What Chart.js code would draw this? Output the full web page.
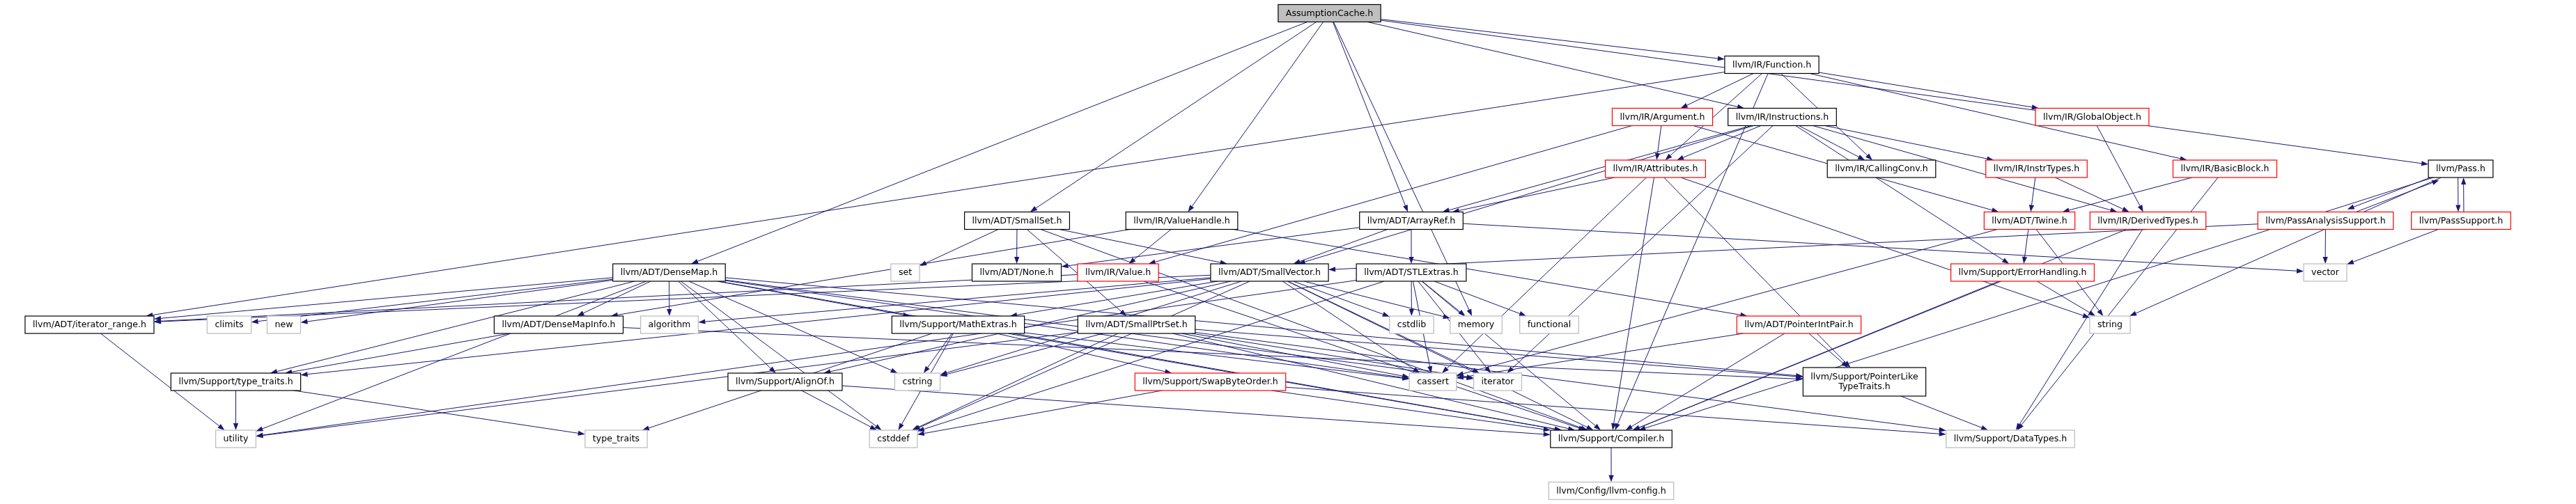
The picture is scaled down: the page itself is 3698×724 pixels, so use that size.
<!DOCTYPE html>
<html>
<head>
<meta charset="utf-8">
<title>AssumptionCache.h include dependency graph</title>
<script src="https://cdn.jsdelivr.net/npm/chart.js@4.4.1/dist/chart.umd.min.js"></script>
<style>
  html, body { margin: 0; padding: 0; background: #ffffff; }
  canvas { display: block; }
</style>
</head>
<body>
<canvas id="graph" width="3698" height="724"></canvas>
<script>
// one entry per header, in rank order
const node_ids = [
  "AC",
  "Function",
  "Argument", "Instructions", "GlobalObject",
  "Attributes", "CallingConv", "InstrTypes", "BasicBlock", "Pass",
  "SmallSet", "ValueHandle", "ArrayRef", "Twine", "DerivedTypes", "PAS", "PassSupport",
  "DenseMap", "set", "None", "Value", "SmallVector", "STLExtras", "ErrorHandling", "vector",
  "iterator_range", "climits", "new", "DenseMapInfo", "algorithm", "MathExtras", "SmallPtrSet",
  "cstdlib", "memory", "functional", "PointerIntPair", "string",
  "typeTraitsH", "AlignOf", "cstring", "SwapByteOrder", "cassert", "iterator", "PLTT",
  "utility", "type_traits", "cstddef", "Compiler", "DataTypes",
  "llvmconfig"
];
const node_labels = [
  "AssumptionCache.h",
  "llvm/IR/Function.h",
  "llvm/IR/Argument.h", "llvm/IR/Instructions.h", "llvm/IR/GlobalObject.h",
  "llvm/IR/Attributes.h", "llvm/IR/CallingConv.h", "llvm/IR/InstrTypes.h", "llvm/IR/BasicBlock.h", "llvm/Pass.h",
  "llvm/ADT/SmallSet.h", "llvm/IR/ValueHandle.h", "llvm/ADT/ArrayRef.h", "llvm/ADT/Twine.h", "llvm/IR/DerivedTypes.h", "llvm/PassAnalysisSupport.h", "llvm/PassSupport.h",
  "llvm/ADT/DenseMap.h", "set", "llvm/ADT/None.h", "llvm/IR/Value.h", "llvm/ADT/SmallVector.h", "llvm/ADT/STLExtras.h", "llvm/Support/ErrorHandling.h", "vector",
  "llvm/ADT/iterator_range.h", "climits", "new", "llvm/ADT/DenseMapInfo.h", "algorithm", "llvm/Support/MathExtras.h", "llvm/ADT/SmallPtrSet.h",
  "cstdlib", "memory", "functional", "llvm/ADT/PointerIntPair.h", "string",
  "llvm/Support/type_traits.h", "llvm/Support/AlignOf.h", "cstring", "llvm/Support/SwapByteOrder.h", "cassert", "iterator", "llvm/Support/PointerLike\nTypeTraits.h",
  "utility", "type_traits", "cstddef", "llvm/Support/Compiler.h", "llvm/Support/DataTypes.h",
  "llvm/Config/llvm-config.h"
];
const node_rank = [
  0,
  1,
  2, 2, 2,
  3, 3, 3, 3, 3,
  4, 4, 4, 4, 4, 4, 4,
  5, 5, 5, 5, 5, 5, 5, 5,
  6, 6, 6, 6, 6, 6, 6, 6, 6, 6, 6, 6,
  7, 7, 7, 7, 7, 7, 7,
  8, 8, 8, 8, 8,
  9
];
const node_x = [
  1908.5,
  2543.5,
  2386.5, 2558.5, 3003.5,
  2376.5, 2701, 2923.5, 3194, 3532.5,
  1460, 1696.5, 2026, 2913.5, 3083.5, 3338.5, 3533,
  960.5, 1299.5, 1459.5, 1605, 1822.5, 2026, 2903.5, 3338,
  128.5, 329, 407.5, 802, 961, 1375.5, 1631.5, 2026.5, 2119, 2224, 2582.5, 3029,
  338.5, 1127, 1317, 1737.5, 2057, 2150, 2676.5,
  338.5, 884.5, 1282.5, 2313, 2886,
  2313
];
// root = the file itself, doc = documented header, trunc = graph cut off below it, ext = no docs
const node_kind = [
  "root",
  "doc",
  "trunc", "doc", "trunc",
  "trunc", "doc", "trunc", "trunc", "doc",
  "doc", "doc", "doc", "trunc", "trunc", "trunc", "trunc",
  "doc", "ext", "doc", "trunc", "doc", "doc", "trunc", "ext",
  "doc", "ext", "ext", "doc", "ext", "doc", "doc", "ext", "ext", "ext", "trunc", "ext",
  "doc", "doc", "ext", "trunc", "ext", "ext", "doc",
  "ext", "ext", "ext", "doc", "ext",
  "ext"
];
// vertical value of each rank
const rank_level = [19, 93, 168, 242.5, 317, 391.5, 466.5, 548.5, 630.5, 705];

// who includes whom
const includes = [
  ["AC", "Function"], ["AC", "DenseMap"], ["AC", "SmallSet"], ["AC", "ValueHandle"],
  ["AC", "ArrayRef"], ["AC", "Instructions"], ["AC", "Pass"], ["AC", "memory"],
  ["Function", "iterator_range"], ["Function", "Argument"], ["Function", "Attributes"],
  ["Function", "BasicBlock"], ["Function", "CallingConv"], ["Function", "GlobalObject"],
  ["Function", "Compiler"],
  ["Argument", "Value"], ["Argument", "Attributes"], ["Argument", "Twine"],
  ["Instructions", "ArrayRef"], ["Instructions", "SmallVector"], ["Instructions", "Attributes"],
  ["Instructions", "CallingConv"], ["Instructions", "DerivedTypes"], ["Instructions", "InstrTypes"],
  ["Instructions", "ErrorHandling"], ["Instructions", "iterator"],
  ["GlobalObject", "DerivedTypes"],
  ["Attributes", "ArrayRef"], ["Attributes", "Compiler"], ["Attributes", "PLTT"],
  ["Attributes", "cassert"], ["Attributes", "string"],
  ["InstrTypes", "Twine"], ["InstrTypes", "DerivedTypes"],
  ["BasicBlock", "Twine"], ["BasicBlock", "DataTypes"],
  ["Pass", "PAS"], ["Pass", "PassSupport"], ["Pass", "string"], ["Pass", "Compiler"],
  ["SmallSet", "None"], ["SmallSet", "SmallPtrSet"], ["SmallSet", "SmallVector"],
  ["SmallSet", "set"], ["SmallSet", "Compiler"],
  ["ValueHandle", "DenseMapInfo"], ["ValueHandle", "PointerIntPair"], ["ValueHandle", "Value"],
  ["ArrayRef", "None"], ["ArrayRef", "SmallVector"], ["ArrayRef", "STLExtras"], ["ArrayRef", "vector"],
  ["Twine", "ErrorHandling"], ["Twine", "string"], ["Twine", "cassert"],
  ["DerivedTypes", "Compiler"], ["DerivedTypes", "DataTypes"],
  ["PAS", "Pass"], ["PAS", "SmallVector"], ["PAS", "vector"],
  ["PassSupport", "Pass"], ["PassSupport", "vector"],
  ["DenseMap", "iterator_range"], ["DenseMap", "climits"], ["DenseMap", "new"],
  ["DenseMap", "DenseMapInfo"], ["DenseMap", "algorithm"], ["DenseMap", "MathExtras"],
  ["DenseMap", "typeTraitsH"], ["DenseMap", "AlignOf"], ["DenseMap", "cstring"],
  ["DenseMap", "utility"], ["DenseMap", "cstddef"], ["DenseMap", "cassert"],
  ["DenseMap", "iterator"], ["DenseMap", "PLTT"], ["DenseMap", "Compiler"],
  ["Value", "iterator_range"], ["Value", "Compiler"],
  ["SmallVector", "iterator_range"], ["SmallVector", "AlignOf"], ["SmallVector", "MathExtras"],
  ["SmallVector", "Compiler"], ["SmallVector", "typeTraitsH"], ["SmallVector", "algorithm"],
  ["SmallVector", "cassert"], ["SmallVector", "cstddef"], ["SmallVector", "cstdlib"],
  ["SmallVector", "cstring"], ["SmallVector", "iterator"], ["SmallVector", "memory"],
  ["STLExtras", "Compiler"], ["STLExtras", "cassert"], ["STLExtras", "cstddef"],
  ["STLExtras", "cstdlib"], ["STLExtras", "functional"], ["STLExtras", "iterator"],
  ["STLExtras", "memory"], ["STLExtras", "utility"],
  ["ErrorHandling", "Compiler"], ["ErrorHandling", "string"],
  ["iterator_range", "utility"],
  ["DenseMapInfo", "typeTraitsH"], ["DenseMapInfo", "PLTT"],
  ["MathExtras", "Compiler"], ["MathExtras", "SwapByteOrder"], ["MathExtras", "cstring"],
  ["MathExtras", "cstddef"], ["MathExtras", "type_traits"], ["MathExtras", "cassert"],
  ["SmallPtrSet", "Compiler"], ["SmallPtrSet", "DataTypes"], ["SmallPtrSet", "PLTT"],
  ["SmallPtrSet", "cassert"], ["SmallPtrSet", "cstddef"], ["SmallPtrSet", "cstring"],
  ["SmallPtrSet", "iterator"], ["SmallPtrSet", "utility"],
  ["PointerIntPair", "PLTT"], ["PointerIntPair", "Compiler"], ["PointerIntPair", "cassert"],
  ["typeTraitsH", "utility"], ["typeTraitsH", "type_traits"],
  ["AlignOf", "Compiler"], ["AlignOf", "cstddef"],
  ["SwapByteOrder", "Compiler"], ["SwapByteOrder", "DataTypes"], ["SwapByteOrder", "cstddef"],
  ["PLTT", "DataTypes"],
  ["Compiler", "llvmconfig"]
];

const FONT = "12.6px 'DejaVu Sans'";
const EDGE_COLOR = "#191970";
const border_color = { root: "#000000", doc: "#000000", trunc: "#ff0000", ext: "#bfbfbf" };
const fill_color = { root: "#bfbfbf", doc: "#ffffff", trunc: "#ffffff", ext: "#ffffff" };

const node_index = {};
node_ids.forEach((id, i) => { node_index[id] = i; });
const edge_keys = new Set(includes.map(e => e[0] + ">" + e[1]));

function boxCut(b, ux, uy) {
  const tx = Math.abs(ux) < 1e-9 ? Infinity : b.hw / Math.abs(ux);
  const ty = Math.abs(uy) < 1e-9 ? Infinity : b.hh / Math.abs(uy);
  return Math.min(tx, ty);
}

const drawGraph = {
  id: "drawGraph",
  afterDatasetsDraw(chart) {
    const ctx = chart.ctx;
    const pts = chart.getDatasetMeta(0).data;
    ctx.save();
    ctx.font = FONT;

    const boxes = node_labels.map((label, i) => {
      const lines = label.split("\n");
      const w = Math.max(...lines.map(l => ctx.measureText(l).width)) + 22;
      const h = lines.length > 1 ? 41 : 25;
      return { x: pts[i].x, y: pts[i].y, hw: w / 2, hh: h / 2, lines: lines };
    });

    // edges
    ctx.strokeStyle = EDGE_COLOR;
    ctx.fillStyle = EDGE_COLOR;
    ctx.lineWidth = 1;
    includes.forEach(([a, b]) => {
      const s = boxes[node_index[a]], t = boxes[node_index[b]];
      const dx = t.x - s.x, dy = t.y - s.y;
      const len = Math.hypot(dx, dy);
      const ux = dx / len, uy = dy / len;
      const off = edge_keys.has(b + ">" + a) ? 4 : 0;
      const ox = -uy * off, oy = ux * off;
      const ts = boxCut(s, ux, uy), tt = boxCut(t, ux, uy);
      const x0 = s.x + ux * ts + ox, y0 = s.y + uy * ts + oy;
      const x1 = t.x - ux * tt + ox, y1 = t.y - uy * tt + oy;
      const bx = x1 - ux * 10, by = y1 - uy * 10;
      ctx.beginPath();
      ctx.moveTo(x0, y0);
      ctx.lineTo(bx, by);
      ctx.stroke();
      ctx.beginPath();
      ctx.moveTo(x1, y1);
      ctx.lineTo(bx - uy * 3.6, by + ux * 3.6);
      ctx.lineTo(bx + uy * 3.6, by - ux * 3.6);
      ctx.closePath();
      ctx.fill();
    });

    // boxes
    ctx.textAlign = "center";
    ctx.textBaseline = "middle";
    boxes.forEach((b, i) => {
      const kind = node_kind[i];
      ctx.fillStyle = fill_color[kind];
      ctx.fillRect(b.x - b.hw, b.y - b.hh, b.hw * 2, b.hh * 2);
      ctx.strokeStyle = border_color[kind];
      ctx.lineWidth = kind === "ext" ? 1.3 : 1.2;
      ctx.strokeRect(b.x - b.hw, b.y - b.hh, b.hw * 2, b.hh * 2);
      ctx.fillStyle = "#000000";
      if (b.lines.length === 1) {
        ctx.fillText(b.lines[0], b.x, b.y + 0.5);
      } else {
        ctx.fillText(b.lines[0], b.x, b.y - 7);
        ctx.fillText(b.lines[1], b.x, b.y + 7);
      }
    });
    ctx.restore();
  }
};

new Chart(document.getElementById("graph").getContext("2d"), {
  type: "scatter",
  data: {
    datasets: [{
      label: "headers",
      data: node_x.map((x, i) => ({ x: x, y: rank_level[node_rank[i]] })),
      pointRadius: 0,
      pointHoverRadius: 0
    }]
  },
  options: {
    responsive: false,
    animation: false,
    devicePixelRatio: 1,
    layout: { padding: 0 },
    plugins: {
      legend: { display: false },
      tooltip: { enabled: false }
    },
    scales: {
      x: { type: "linear", min: 0, max: 3698, display: false },
      y: { type: "linear", min: 0, max: 724, reverse: true, display: false }
    }
  },
  plugins: [drawGraph]
});
</script>
</body>
</html>
